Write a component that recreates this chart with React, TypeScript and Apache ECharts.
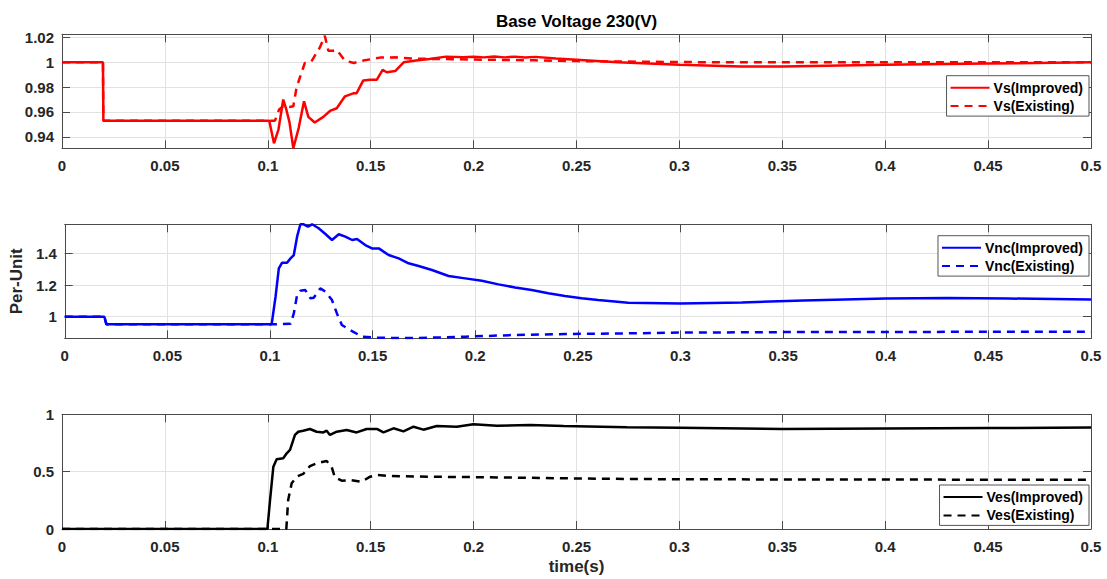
import React, { useEffect, useRef } from "react";
import * as echarts from "echarts";

// ---------------- data ----------------
const vsImprovedT = [0, 0.0199, 0.0201, 0.05, 0.1, 0.1007, 0.103, 0.1052, 0.1075, 0.109, 0.1105, 0.1124, 0.115, 0.1176, 0.1197, 0.1228, 0.127, 0.1302, 0.1335, 0.1375, 0.1415, 0.1431, 0.1464, 0.1497, 0.153, 0.1558, 0.1578, 0.1619, 0.166, 0.172, 0.1785, 0.1866, 0.1947, 0.2, 0.205, 0.21, 0.215, 0.22, 0.225, 0.23, 0.24, 0.25, 0.27, 0.3, 0.33, 0.35, 0.4, 0.45, 0.5];
const vsImprovedV = [1, 1, 0.953, 0.953, 0.953, 0.953, 0.9347, 0.946, 0.970, 0.962, 0.952, 0.9307, 0.947, 0.9686, 0.956, 0.9515, 0.956, 0.9608, 0.963, 0.9726, 0.975, 0.975, 0.9854, 0.986, 0.986, 0.9939, 0.992, 0.993, 1.0, 1.0014, 1.0027, 1.0046, 1.0042, 1.0046, 1.004, 1.0047, 1.004, 1.0046, 1.0039, 1.0044, 1.003, 1.002, 1.0, 0.998, 0.9966, 0.9966, 0.998, 0.999, 1.0];

const vsExistingT = [0, 0.0199, 0.0201, 0.1, 0.1035, 0.1055, 0.1075, 0.1105, 0.1124, 0.114, 0.118, 0.1212, 0.1253, 0.1277, 0.1294, 0.1318, 0.1335, 0.1375, 0.1418, 0.1464, 0.1545, 0.1626, 0.1707, 0.19, 0.21, 0.23, 0.25, 0.28, 0.32, 0.36, 0.4, 0.45, 0.5];
const vsExistingV = [1, 1, 0.953, 0.953, 0.953, 0.962, 0.9646, 0.964, 0.9646, 0.98, 0.9995, 1.0008, 1.012, 1.0214, 1.0094, 1.0094, 1.01, 1.0014, 0.9995, 1.0014, 1.0038, 1.004, 1.003, 1.0025, 1.002, 1.0016, 1.001, 1.0005, 1.0, 1.0, 1.0, 1.0, 1.0];

const vncImprovedT = [0, 0.0193, 0.0203, 0.1, 0.1008, 0.1027, 0.1043, 0.1059, 0.1083, 0.11, 0.1116, 0.1132, 0.1148, 0.1164, 0.1185, 0.1205, 0.1237, 0.127, 0.1302, 0.1335, 0.1367, 0.14, 0.1424, 0.1464, 0.1497, 0.153, 0.1578, 0.1627, 0.1675, 0.1724, 0.1789, 0.187, 0.1951, 0.2032, 0.2113, 0.2194, 0.2275, 0.2356, 0.2437, 0.2518, 0.2599, 0.2745, 0.3, 0.33, 0.36, 0.4, 0.43, 0.46, 0.5];
const vncImprovedV = [1, 1, 0.952, 0.952, 0.952, 1.126, 1.305, 1.341, 1.341, 1.368, 1.389, 1.505, 1.583, 1.583, 1.568, 1.583, 1.558, 1.522, 1.484, 1.52, 1.505, 1.484, 1.49, 1.452, 1.431, 1.431, 1.389, 1.368, 1.337, 1.32, 1.295, 1.257, 1.242, 1.227, 1.204, 1.185, 1.168, 1.148, 1.131, 1.116, 1.105, 1.088, 1.084, 1.09, 1.103, 1.115, 1.118, 1.115, 1.108];

const vncExistingT = [0, 0.0193, 0.0203, 0.1, 0.1008, 0.11, 0.1116, 0.1132, 0.1148, 0.1172, 0.1197, 0.1213, 0.1245, 0.127, 0.1302, 0.1326, 0.135, 0.1391, 0.1448, 0.1513, 0.16, 0.1724, 0.1951, 0.2194, 0.2437, 0.2745, 0.3, 0.35, 0.4, 0.45, 0.5];
const vncExistingV = [1, 1, 0.952, 0.952, 0.952, 0.955, 1.021, 1.137, 1.164, 1.168, 1.116, 1.12, 1.179, 1.158, 1.105, 1.021, 0.948, 0.916, 0.874, 0.868, 0.866, 0.866, 0.874, 0.885, 0.891, 0.895, 0.9, 0.903, 0.904, 0.905, 0.905];

const vesImprovedT = [0, 0.0998, 0.1011, 0.1027, 0.1043, 0.1075, 0.1092, 0.1108, 0.1132, 0.1148, 0.1172, 0.1205, 0.1237, 0.127, 0.1286, 0.1302, 0.1335, 0.1383, 0.1432, 0.148, 0.153, 0.1562, 0.1611, 0.1659, 0.1708, 0.1756, 0.1821, 0.1918, 0.1999, 0.2113, 0.2275, 0.2437, 0.2745, 0.3, 0.35, 0.4, 0.45, 0.5];
const vesImprovedV = [0, 0, 0.253, 0.543, 0.608, 0.617, 0.66, 0.689, 0.82, 0.848, 0.857, 0.872, 0.848, 0.842, 0.857, 0.82, 0.848, 0.863, 0.842, 0.872, 0.872, 0.842, 0.878, 0.851, 0.892, 0.866, 0.898, 0.892, 0.913, 0.901, 0.907, 0.898, 0.887, 0.883, 0.872, 0.876, 0.88, 0.884];

const vesExistingT = [0, 0.109, 0.1099, 0.1116, 0.114, 0.1172, 0.1205, 0.1237, 0.1286, 0.131, 0.1326, 0.1359, 0.14, 0.1456, 0.1497, 0.153, 0.1594, 0.1789, 0.2113, 0.2437, 0.2745, 0.3, 0.35, 0.4, 0.45, 0.5];
const vesExistingV = [0, 0, 0.253, 0.398, 0.456, 0.48, 0.549, 0.573, 0.593, 0.543, 0.451, 0.421, 0.427, 0.412, 0.456, 0.471, 0.462, 0.456, 0.45, 0.442, 0.436, 0.434, 0.432, 0.431, 0.43, 0.43];

const xTicks = { min: 0, max: 0.5, step: 0.05 };
const yRanges = [
  { min: 0.9307, max: 1.0226, step: 0.02 },
  { min: 0.864, max: 1.583, step: 0.2 },
  { min: 0, max: 1, step: 0.5 },
];
const legendNames = [
  ["Vs(Improved)", "Vs(Existing)"],
  ["Vnc(Improved)", "Vnc(Existing)"],
  ["Ves(Improved)", "Ves(Existing)"],
];
const titleText = "Base Voltage 230(V)";
const yName = "Per-Unit";
const xName = "time(s)";

// ---------------- layout / style ----------------
const FONT = "'Liberation Sans', Arial, sans-serif";
const AX = "#4a4a4a";
const GRID_LINE = "#e2e2e2";
const grids = [
  { top: 34.3, height: 114 },
  { top: 224.3, height: 114 },
  { top: 414.3, height: 114.7 },
];
const legendTops = [75.7, 235.7, 485];
const colors = ["#ff0000", "#0000ff", "#000000"];

function pairs(t: number[], v: number[]) {
  return t.map((x, i) => [x, v[i]]);
}

function fmt(step: number) {
  return (val: number) => {
    const k = val / step;
    if (Math.abs(k - Math.round(k)) > 1e-6) return "";
    return String(+val.toFixed(4));
  };
}

export default function App() {
  const ref = useRef<HTMLDivElement>(null);
  useEffect(() => {
    if (!ref.current) return;
    const chart = echarts.init(ref.current, undefined, { renderer: "svg" });

    const xAxes: any[] = [];
    const yAxes: any[] = [];
    grids.forEach((g, gi) => {
      const tickStyle = { show: true, inside: true, length: 8, lineStyle: { color: AX, width: 1 } };
      xAxes.push({
        type: "value",
        gridIndex: gi,
        position: "bottom",
        min: xTicks.min,
        max: xTicks.max,
        interval: xTicks.step,
        axisLine: { show: true, onZero: false, lineStyle: { color: AX, width: 1 } },
        axisTick: tickStyle,
        axisLabel: {
          show: true,
          margin: 10,
          color: "#262626",
          fontSize: 15,
          fontWeight: "bold",
          fontFamily: FONT,
          formatter: fmt(xTicks.step),
        },
        splitLine: { show: true, lineStyle: { color: GRID_LINE, width: 1 } },
        ...(gi === 2
          ? {
              name: xName,
              nameLocation: "middle",
              nameGap: 29,
              nameTextStyle: { color: "#262626", fontSize: 17, fontWeight: "bold", fontFamily: FONT },
            }
          : {}),
      });
      xAxes.push({
        type: "value",
        gridIndex: gi,
        position: "top",
        min: xTicks.min,
        max: xTicks.max,
        interval: xTicks.step,
        axisLine: { show: true, onZero: false, lineStyle: { color: AX, width: 1 } },
        axisTick: tickStyle,
        axisLabel: { show: false },
        splitLine: { show: false },
      });
      const yr = yRanges[gi];
      yAxes.push({
        type: "value",
        gridIndex: gi,
        position: "left",
        min: yr.min,
        max: yr.max,
        minInterval: yr.step,
        maxInterval: yr.step,
        axisLine: { show: true, onZero: false, lineStyle: { color: AX, width: 1 } },
        axisTick: tickStyle,
        axisLabel: {
          show: true,
          margin: 8,
          color: "#262626",
          fontSize: 15,
          fontWeight: "bold",
          fontFamily: FONT,
          formatter: fmt(yr.step),
        },
        splitLine: { show: true, lineStyle: { color: GRID_LINE, width: 1 } },
        ...(gi === 1
          ? {
              name: yName,
              nameLocation: "middle",
              nameGap: 33,
              nameTextStyle: { color: "#262626", fontSize: 17, fontWeight: "bold", fontFamily: FONT },
            }
          : {}),
      });
      yAxes.push({
        type: "value",
        gridIndex: gi,
        position: "right",
        min: yr.min,
        max: yr.max,
        minInterval: yr.step,
        maxInterval: yr.step,
        axisLine: { show: true, onZero: false, lineStyle: { color: AX, width: 1 } },
        axisTick: tickStyle,
        axisLabel: { show: false },
        splitLine: { show: false },
      });
    });

    const seriesDefs = [
      { name: legendNames[0][0], t: vsImprovedT, v: vsImprovedV, g: 0, dashed: false },
      { name: legendNames[0][1], t: vsExistingT, v: vsExistingV, g: 0, dashed: true },
      { name: legendNames[1][0], t: vncImprovedT, v: vncImprovedV, g: 1, dashed: false },
      { name: legendNames[1][1], t: vncExistingT, v: vncExistingV, g: 1, dashed: true },
      { name: legendNames[2][0], t: vesImprovedT, v: vesImprovedV, g: 2, dashed: false },
      { name: legendNames[2][1], t: vesExistingT, v: vesExistingV, g: 2, dashed: true },
    ];

    const series = seriesDefs.map((s) => ({
      type: "line",
      name: s.name,
      xAxisIndex: s.g * 2,
      yAxisIndex: s.g * 2,
      data: pairs(s.t, s.v),
      symbol: "none",
      showSymbol: false,
      smooth: false,
      clip: true,
      color: colors[s.g],
      lineStyle: { color: colors[s.g], width: 2.5, type: s.dashed ? [8, 6] : "solid" },
      z: s.dashed ? 3 : 4,
    }));

    const legends = legendNames.map((names, gi) => ({
      data: names,
      orient: "vertical",
      right: 18,
      top: legendTops[gi],
      itemWidth: 39,
      itemHeight: 14,
      itemGap: 4.4,
      padding: [5, 6, 3, 3],
      backgroundColor: "#ffffff",
      borderColor: "#555555",
      borderWidth: 1,
      borderRadius: 0,
      selectedMode: false,
      itemStyle: { opacity: 0 },
      textStyle: { color: "#000", fontSize: 14, fontWeight: "bold", fontFamily: FONT, padding: [0, 0, 0, -1] },
    }));

    chart.setOption({
      animation: false,
      backgroundColor: "#ffffff",
      title: {
        text: titleText,
        left: 571.5,
        top: 8,
        textAlign: "center",
        textStyle: { color: "#000", fontSize: 17, fontWeight: "bold", fontFamily: FONT },
      },
      grid: grids.map((g) => ({ left: 62, right: 16, top: g.top, height: g.height, containLabel: false })),
      xAxis: xAxes,
      yAxis: yAxes,
      legend: legends,
      series,
    });
    return () => chart.dispose();
  }, []);
  return (
    <div
      ref={ref}
      style={{ position: "absolute", left: 0, top: 0, width: 1107, height: 579, background: "#fff" }}
    />
  );
}
